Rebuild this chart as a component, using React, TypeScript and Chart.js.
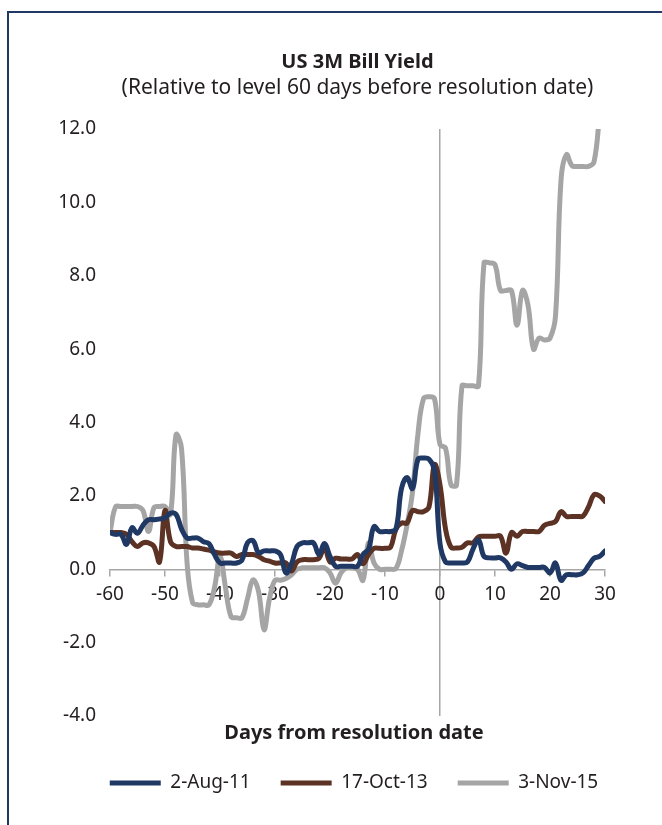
import React, { useEffect, useRef } from "react";
import { Chart, registerables } from "chart.js";

Chart.register(...registerables);

const days = [
  -60, -59, -58, -57, -56, -55, -54, -53, -52, -51,
  -50, -49, -48, -47, -46, -45, -44, -43, -42, -41,
  -40, -39, -38, -37, -36, -35, -34, -33, -32, -31,
  -30, -29, -28, -27, -26, -25, -24, -23, -22, -21,
  -20, -19, -18, -17, -16, -15, -14, -13, -12, -11,
  -10, -9, -8, -7, -6, -5, -4, -3, -2, -1,
  0, 1, 2, 3, 4, 5, 6, 7, 8, 9,
  10, 11, 12, 13, 14, 15, 16, 17, 18, 19,
  20, 21, 22, 23, 24, 25, 26, 27, 28, 29, 30,
];

const aug11 = [
  1.0, 0.95, 0.95, 0.68, 1.13, 0.98, 1.2, 1.35, 1.35, 1.37,
  1.4, 1.53, 1.5, 1.1, 0.85, 0.85, 0.85, 0.75, 0.7, 0.4,
  0.17, 0.17, 0.17, 0.17, 0.25, 0.72, 0.78, 0.45, 0.5, 0.5,
  0.5, 0.4, -0.1, 0.15, 0.62, 0.72, 0.72, 0.72, 0.4, 0.7,
  0.35, 0.08, 0.08, 0.08, 0.08, 0.08, 0.4, 0.55, 1.16, 1.03,
  1.03, 1.03, 1.1, 2.2, 2.5, 2.2, 3.0, 3.03, 3.0, 2.7,
  0.7, 0.2, 0.17, 0.17, 0.17, 0.2, 0.55, 0.8, 0.35, 0.31,
  0.31, 0.31, 0.2, 0.0, 0.15, 0.1, 0.05, 0.05, 0.05, 0.05,
  -0.1, 0.17, -0.3, -0.15, -0.15, -0.15, -0.1, 0.1, 0.3, 0.35, 0.5,
];

const oct13 = [
  1.0, 1.0, 1.0, 0.95, 0.75, 0.62, 0.72, 0.72, 0.62, 0.2,
  1.6, 0.75, 0.62, 0.62, 0.62, 0.58, 0.58, 0.55, 0.52, 0.47,
  0.44, 0.44, 0.44, 0.35, 0.4, 0.4, 0.4, 0.35, 0.26, 0.22,
  0.17, 0.17, 0.17, -0.05, 0.2, 0.26, 0.26, 0.26, 0.3, 0.6,
  0.2, 0.3, 0.28, 0.28, 0.28, 0.4, 0.15, 0.4, 0.57, 0.57,
  0.57, 0.6, 1.1, 1.26, 1.26, 1.6, 1.57, 1.57, 1.7, 2.85,
  2.3, 1.1, 0.6, 0.58, 0.6, 0.72, 0.72, 0.88, 0.9, 0.9,
  0.9, 0.9, 0.44, 1.0, 0.9, 1.03, 1.03, 1.03, 1.03, 1.2,
  1.25, 1.3, 1.57, 1.44, 1.44, 1.44, 1.45, 1.7, 2.03, 2.0, 1.85,
];

const nov15 = [
  1.0, 1.7, 1.71, 1.71, 1.71, 1.71, 1.6, 1.03, 1.68, 1.71,
  1.71, 1.5, 3.66, 3.3, 0.2, -0.9, -0.97, -0.97, -0.97, -0.5,
  0.35, -0.5, -1.29, -1.32, -1.32, -0.8, -0.29, -0.6, -1.65, -0.8,
  -0.3, -0.3, -0.25, -0.15, 0.0, 0.04, 0.04, 0.04, 0.04, 0.04,
  -0.1, -0.38, -0.1, 0.04, 0.04, 0.0, -0.3, 0.72, 0.17, 0.0,
  0.0, 0.0, 0.02, 0.5, 1.2, 2.1, 3.7, 4.65, 4.7, 4.65,
  3.4, 3.3, 2.3, 2.3, 5.0, 5.0, 5.0, 5.0, 8.35, 8.35,
  8.3, 7.6, 7.6, 7.6, 6.65, 7.6, 7.2, 6.0, 6.3, 6.25,
  6.3, 6.9, 10.6, 11.3, 11.0, 10.98, 10.98, 10.98, 11.1, 12.4, 14.0,
];

const seriesNames = ["2-Aug-11", "17-Oct-13", "3-Nov-15"];
const seriesColors = ["#1F3864", "#5B3223", "#A5A5A5"];

const titleText = "US 3M Bill Yield";
const subtitleText = "(Relative to level 60 days before resolution date)";
const xTitleText = "Days from resolution date";

const FONT = "'Noto Sans', 'Open Sans', sans-serif";
const TEXT = "#231F20";
const AXIS = "#A6A6A6";

export default function App() {
  const ref = useRef<HTMLCanvasElement | null>(null);

  useEffect(() => {
    if (!ref.current) return;
    const values = [aug11, oct13, nov15];
    const chart = new Chart(ref.current, {
      type: "line",
      data: {
        datasets: values.map((vals, i) => ({
          label: seriesNames[i],
          data: days.map((d, j) => ({ x: d, y: vals[j] })),
          borderColor: seriesColors[i],
          backgroundColor: seriesColors[i],
          borderWidth: 5,
          borderCapStyle: "round",
          borderJoinStyle: "round",
          pointRadius: 0,
          tension: 0.4,
          fill: false,
        })),
      },
      options: {
        animation: false,
        responsive: false,
        devicePixelRatio: 1,
        layout: { padding: { left: 46, right: 0, top: 0, bottom: 22.5 } },
        plugins: {
          tooltip: { enabled: false },
          title: {
            display: true,
            fullSize: false,
            text: titleText,
            color: TEXT,
            font: { family: FONT, size: 20, weight: "bold", lineHeight: 1.2 },
            padding: { top: 50, bottom: 1 },
          },
          subtitle: {
            display: true,
            fullSize: false,
            text: subtitleText,
            color: TEXT,
            font: { family: FONT, size: 21, weight: "normal", lineHeight: 1.2 },
            padding: { top: 0, bottom: 28.8 },
          },
          legend: {
            position: "bottom",
            fullSize: true,
            align: "center",
            labels: {
              usePointStyle: true,
              pointStyle: "line",
              pointStyleWidth: 51,
              padding: 30,
              color: TEXT,
              font: { family: FONT, size: 19 },
            },
            title: {
              display: true,
              text: xTitleText,
              color: TEXT,
              font: { family: FONT, size: 20, weight: "bold", lineHeight: 1.2 },
              padding: { top: 7, bottom: -3.5 },
            },
          },
        },
        scales: {
          x: {
            type: "linear",
            position: { y: 0 },
            min: -60,
            max: 30,
            ticks: {
              stepSize: 10,
              autoSkip: false,
              maxRotation: 0,
              padding: 8,
              color: TEXT,
              font: { family: FONT, size: 19 },
              callback: (v: any) => String(v),
            },
            grid: {
              drawOnChartArea: true,
              color: (c: any) => (c.tick && c.tick.value === 0 ? AXIS : "rgba(0,0,0,0)"),
              lineWidth: 1.5,
              drawTicks: true,
              tickLength: 6,
              tickColor: AXIS,
              tickWidth: 1.5,
            },
            border: { display: true, color: AXIS, width: 1.5 },
          },
          y: {
            type: "linear",
            position: "left",
            min: -4,
            max: 12,
            ticks: {
              stepSize: 2,
              padding: 14,
              color: TEXT,
              font: { family: FONT, size: 19 },
              callback: (v: any) => Number(v).toFixed(1),
            },
            grid: { display: false, drawTicks: false },
            border: { display: false },
            afterFit: (s: any) => {
              s.width = 64;
            },
          },
          yRight: {
            type: "linear",
            axis: "y",
            position: "right",
            min: -4,
            max: 12,
            ticks: { display: false },
            grid: { display: false, drawTicks: false },
            border: { display: false },
            afterFit: (s: any) => {
              s.width = 57;
            },
          },
        },
      },
    } as any);
    return () => chart.destroy();
  }, []);

  return (
    <div style={{ position: "fixed", left: 0, top: 0, width: 662, height: 825, background: "#fff", overflow: "hidden" }}>
      <div
        style={{
          position: "absolute",
          left: 7,
          top: 11,
          width: 700,
          height: 900,
          borderTop: "2px solid #1F3864",
          borderLeft: "2px solid #1F3864",
        }}
      />
      <canvas ref={ref} width={662} height={825} style={{ position: "absolute", left: 0, top: 0, display: "block" }} />
    </div>
  );
}
